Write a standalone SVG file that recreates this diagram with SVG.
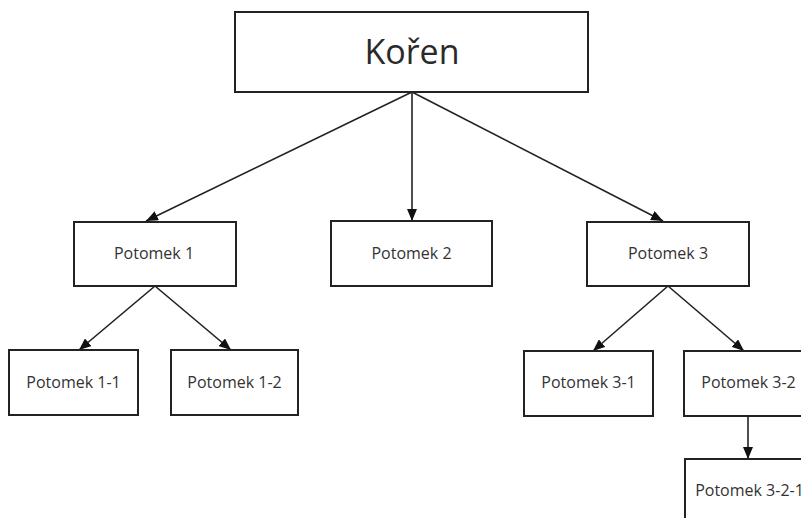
<svg xmlns="http://www.w3.org/2000/svg" width="801" height="518" viewBox="0 0 801 518">
<style>
.box{fill:#fff;stroke:#222;stroke-width:2}
.lbl{font-family:"Open Sans","Noto Sans","Liberation Sans",sans-serif;font-size:16px;fill:#333;text-anchor:middle}
.big{font-size:34px;fill:#2a2a2a}
.edge{stroke:#222;stroke-width:1.6;fill:none;marker-end:url(#ah)}
</style>
<defs>
<marker id="ah" markerUnits="userSpaceOnUse" markerWidth="12" markerHeight="10" viewBox="0 0 12 10" refX="12" refY="5" orient="auto">
<path d="M0,0 L12,5 L0,10 z" fill="#111"/>
</marker>
</defs>
<rect width="801" height="518" fill="#fff"/>
<g id="connectors">
<line class="edge" x1="412" y1="92" x2="146" y2="221"/>
<line class="edge" x1="412" y1="92" x2="412" y2="221"/>
<line class="edge" x1="412" y1="92" x2="663" y2="221"/>
<line class="edge" x1="155" y1="286" x2="79" y2="350"/>
<line class="edge" x1="155" y1="286" x2="231" y2="350"/>
<line class="edge" x1="668" y1="286" x2="593" y2="351"/>
<line class="edge" x1="668" y1="286" x2="744" y2="351"/>
<line class="edge" x1="748" y1="416" x2="748" y2="459"/>
</g>
<g id="koren">
<rect class="box" x="235" y="12" width="353" height="80"/>
<text class="lbl big" x="412" y="64">Kořen</text>
</g>
<g id="potomek1">
<rect class="box" x="74" y="222" width="162" height="64"/>
<text class="lbl" x="154" y="259">Potomek 1</text>
</g>
<g id="potomek2">
<rect class="box" x="331" y="221" width="161" height="65"/>
<text class="lbl" x="411.5" y="259">Potomek 2</text>
</g>
<g id="potomek3">
<rect class="box" x="587" y="222" width="162" height="64"/>
<text class="lbl" x="668" y="259">Potomek 3</text>
</g>
<g id="potomek1-1">
<rect class="box" x="9" y="350" width="129" height="65"/>
<text class="lbl" x="73.5" y="388">Potomek 1-1</text>
</g>
<g id="potomek1-2">
<rect class="box" x="171" y="350" width="127" height="65"/>
<text class="lbl" x="234.5" y="388">Potomek 1-2</text>
</g>
<g id="potomek3-1">
<rect class="box" x="524" y="351" width="129" height="65"/>
<text class="lbl" x="588.5" y="388">Potomek 3-1</text>
</g>
<g id="potomek3-2">
<rect class="box" x="684" y="351" width="129" height="65"/>
<text class="lbl" x="748.5" y="388">Potomek 3-2</text>
</g>
<g id="potomek3-2-1">
<rect class="box" x="685" y="459" width="129" height="65"/>
<text class="lbl" x="749.5" y="496">Potomek 3-2-1</text>
</g>
</svg>
